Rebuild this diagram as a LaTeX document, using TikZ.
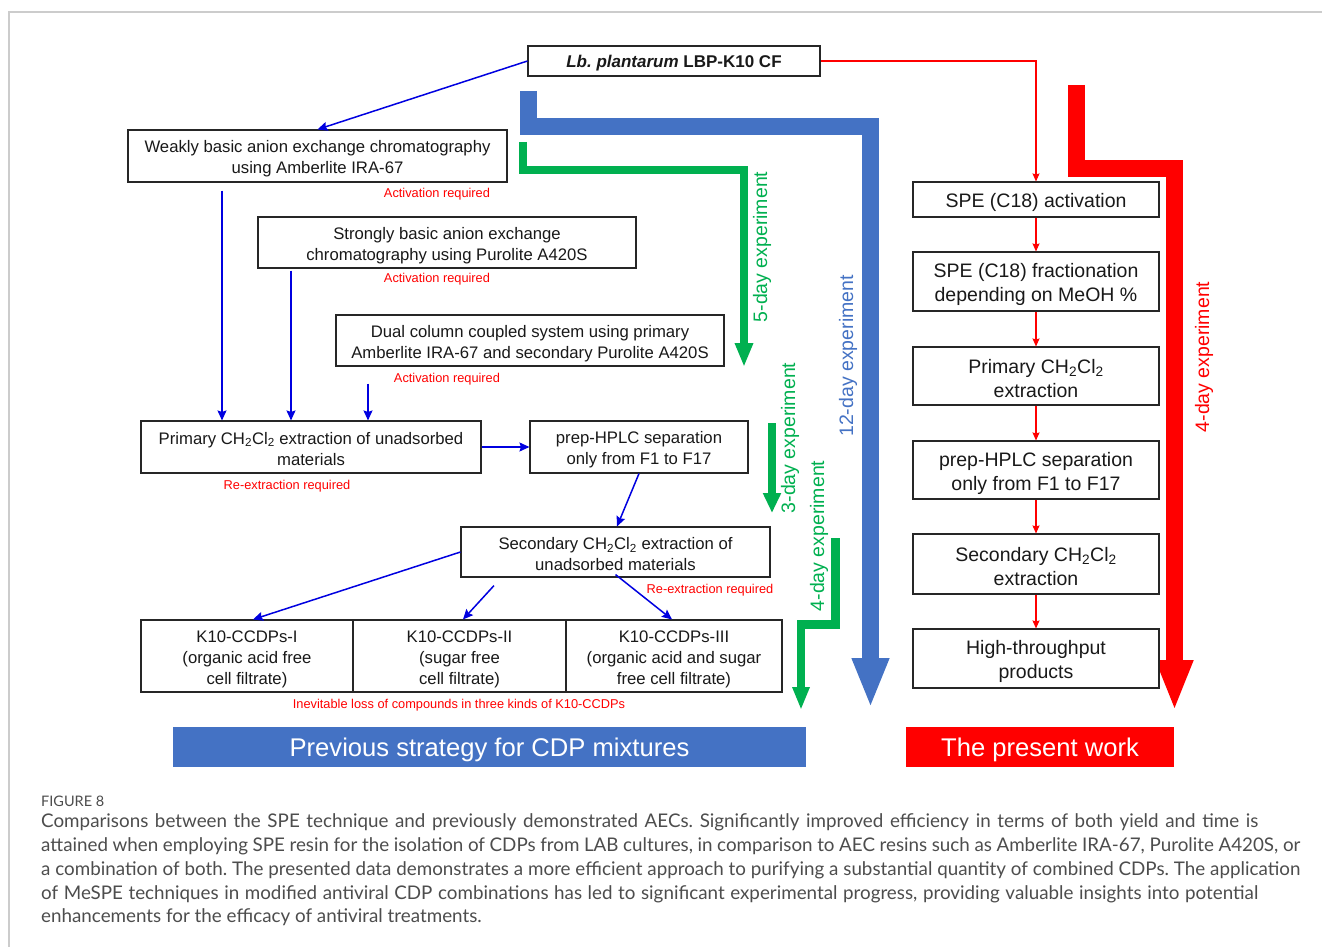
\documentclass[tikz,border=0pt]{standalone}
\usepackage{fontspec}
\setmainfont{Liberation Sans}
\newfontfamily\capfont{Lato}
\usetikzlibrary{arrows.meta}
\definecolor{tblue}{HTML}{4472C4}
\definecolor{tgreen}{HTML}{00B050}
\definecolor{lblue}{HTML}{0000E0}
\definecolor{tred}{HTML}{FF0000}
\definecolor{capgray}{HTML}{4D4D4D}
\definecolor{framegray}{HTML}{CCCCCC}
\newcommand\tp[1][6pt]{\rule{0pt}{\dimexpr0.73em+#1\relax}}
\frenchspacing
\begin{document}
\begin{tikzpicture}[x=1pt,y=-1pt,
  box/.style={draw=black!85, line width=1.1pt, fill=white, inner sep=0pt, align=center, font=\fontsize{16.7}{21}\selectfont, text=black!90},
  rbox/.style={box, minimum width=246pt, font=\fontsize{19.5}{24}\selectfont},
  note/.style={text=tred, inner sep=0pt, font=\fontsize{12.8}{15}\selectfont},
  barrow/.style={draw=lblue, line width=1.5pt, -{Stealth[length=10pt,width=9pt,inset=1.5pt]}},
  rarrow/.style={draw=tred, line width=1.1pt, -{Stealth[length=8pt,width=7pt,inset=1pt]}},
  rlabel/.style={rotate=90, inner sep=0pt, font=\fontsize{19.5}{23}\selectfont},
  banner/.style={inner sep=0pt, text=white, font=\fontsize{25.6}{30}\selectfont, minimum height=40pt},
  fatarrow/.style={line width=17pt, line join=miter, -{Triangle[width=34pt,length=50pt]}},
  slimarrow/.style={draw=tgreen, line width=8.5pt, line join=miter},
  capline/.style={anchor=west, inner sep=0pt, text=capgray, font=\capfont\fontsize{18.8}{22}\selectfont},
]
\useasboundingbox (0,0) rectangle (1322,947);
\fill[white] (0,0) rectangle (1322,947);
\draw[framegray, line width=1.5pt] (9,947) -- (9,12) -- (1322,12);

% ---- thick experiment arrows ----
\coordinate (b0) at (528.5,91);
\coordinate (b1) at (528.5,126.5);
\coordinate (b2) at (870.5,126.5);
\coordinate (b3) at (870.5,708);
\draw[fatarrow, draw=tblue] (b0) -- (b1) -- (b2) -- (b3);

\coordinate (r0) at (1076.5,85);
\coordinate (r1) at (1076.5,168.5);
\coordinate (r2) at (1174.5,168.5);
\coordinate (r3) at (1174.5,711);
\draw[fatarrow, draw=tred, -{Triangle[width=34pt,length=51pt]}] (r0) -- (r1) -- (r2) -- (r3);

\coordinate (g0) at (523,142);
\coordinate (g1) at (523,170);
\coordinate (g2) at (744,170);
\coordinate (g3) at (744,367);
\draw[slimarrow, -{Triangle[width=17pt,length=24pt]}] (g0) -- (g1) -- (g2) -- (g3);

\coordinate (h0) at (772,423);
\coordinate (h1) at (772,513);
\draw[slimarrow, -{Triangle[width=17pt,length=20pt]}] (h0) -- (h1);

\coordinate (f0) at (835.5,538);
\coordinate (f1) at (835.5,624.5);
\coordinate (f2) at (801,624.5);
\coordinate (f3) at (801,710);
\draw[slimarrow, -{Triangle[width=16pt,length=23pt]}] (f0) -- (f1) -- (f2) -- (f3);

\node[rlabel, text=tgreen] (l5) at (762,247) {5-day experiment};
\node[rlabel, text=tgreen] (l3) at (790,438) {3-day experiment};
\node[rlabel, text=tgreen] (l4) at (819,536) {4-day experiment};
\node[rlabel, text=tblue] (l12) at (848,356) {12-day experiment};
\node[rlabel, text=tred] (l4r) at (1204,357) {4-day experiment};

% ---- left (previous strategy) ----
\node[box, minimum width=292pt, minimum height=30pt, font=\bfseries\fontsize{17}{20}\selectfont] (top) at (674,61) {\tp[4pt]\textit{Lb. plantarum} LBP-K10 CF};
\node[box, minimum width=379pt, minimum height=52pt] (weak) at (317.5,156) {\tp Weakly basic anion exchange chromatography\\using Amberlite IRA-67};
\node[box, minimum width=378pt, minimum height=51pt] (strong) at (447,242.5) {\tp Strongly basic anion exchange\\chromatography using Purolite A420S};
\node[box, minimum width=388pt, minimum height=51pt] (dual) at (530,340.5) {\tp Dual column coupled system using primary\\Amberlite IRA-67 and secondary Purolite A420S};
\node[box, minimum width=340pt, minimum height=52pt] (prim) at (311,447) {\tp[3pt]Primary CH\textsubscript{2}Cl\textsubscript{2} extraction of unadsorbed\\materials};
\node[box, minimum width=218pt, minimum height=52pt] (hplc) at (639,447) {\tp prep-HPLC separation\\only from F1 to F17};
\node[box, minimum width=309pt, minimum height=50pt] (sec) at (615.5,552) {\tp[4pt]Secondary CH\textsubscript{2}Cl\textsubscript{2} extraction of\\unadsorbed materials};
\node[box, minimum width=212pt, minimum height=72pt] (k1) at (247,656) {\tp K10-CCDPs-I\\(organic acid free\\cell filtrate)};
\node[box, minimum width=213pt, minimum height=72pt] (k2) at (459.5,656) {\tp K10-CCDPs-II\\(sugar free\\cell filtrate)};
\node[box, minimum width=216pt, minimum height=72pt] (k3) at (674,656) {\tp K10-CCDPs-III\\(organic acid and sugar\\free cell filtrate)};

\node[note] (a1) at (437,194) {Activation required};
\node[note] (a2) at (437,279) {Activation required};
\node[note] (a3) at (447,379) {Activation required};
\node[note] (re1) at (287,486) {Re-extraction required};
\node[note] (re2) at (710,590) {Re-extraction required};
\node[note] (loss) at (459,705) {Inevitable loss of compounds in three kinds of K10-CCDPs};

\draw[barrow] (top.west) -- (weak.north);
\draw[barrow] ([shift={(-95.5,8)}]weak.south) -- ([xshift=-89]prim.north);
\draw[barrow] ([shift={(-156,2)}]strong.south) -- ([xshift=-20]prim.north);
\draw[barrow] ([shift={(-162,17)}]dual.south) -- ([xshift=57]prim.north);
\draw[barrow] (prim.east) -- (hplc.west);
\draw[barrow] (hplc.south) -- ([xshift=1.5]sec.north);
\draw[barrow] (sec.west) -- ([xshift=6]k1.north);
\draw[barrow] ([shift={(-121.5,8)}]sec.south) -- ([xshift=3.5]k2.north);
\draw[barrow] ([yshift=3]sec.south) -- ([xshift=-2]k3.north);

\node[banner, fill=tblue, minimum width=633pt] (pb) at (489.5,747) {\tp Previous strategy for CDP mixtures};

% ---- right (present work) ----
\node[rbox, minimum height=35pt] (s1) at (1036,199.5) {\tp SPE (C18) activation};
\node[rbox, minimum height=59pt] (s2) at (1036,281.5) {\tp SPE (C18) fractionation\\depending on MeOH \%};
\node[rbox, minimum height=58pt] (s3) at (1036,376) {\tp[4pt]Primary CH\textsubscript{2}Cl\textsubscript{2}\\extraction};
\node[rbox, minimum height=58pt] (s4) at (1036,470) {\tp prep-HPLC separation\\only from F1 to F17};
\node[rbox, minimum height=60pt] (s5) at (1036,564) {\tp[4pt]Secondary CH\textsubscript{2}Cl\textsubscript{2}\\extraction};
\node[rbox, minimum height=59pt] (s6) at (1036,658.5) {\tp High-throughput\\products};

\draw[rarrow] (top.east) -| (s1.north);
\draw[rarrow] (s1.south) -- (s2.north);
\draw[rarrow] (s2.south) -- (s3.north);
\draw[rarrow] (s3.south) -- (s4.north);
\draw[rarrow] (s4.south) -- (s5.north);
\draw[rarrow] (s5.south) -- (s6.north);

\node[banner, fill=tred, minimum width=268pt] (rb) at (1040,747) {\tp The present work};

% ---- caption ----
\node[anchor=west, inner sep=0pt, text=capgray, font=\capfont\fontsize{14.5}{16}\selectfont] (fig) at (41,801) {FIGURE 8};
\node[capline] (c1) at (41,822) {\makebox[1217pt][s]{Comparisons between the SPE technique and previously demonstrated AECs. Significantly improved efficiency in terms of both yield and time is}};
\node[capline] (c2) at (41,846) {\makebox[1259pt][s]{attained when employing SPE resin for the isolation of CDPs from LAB cultures, in comparison to AEC resins such as Amberlite IRA-67, Purolite A420S, or}};
\node[capline] (c3) at (41,870) {\makebox[1259pt][s]{a combination of both. The presented data demonstrates a more efficient approach to purifying a substantial quantity of combined CDPs. The application}};
\node[capline] (c4) at (41,894) {\makebox[1217pt][s]{of MeSPE techniques in modified antiviral CDP combinations has led to significant experimental progress, providing valuable insights into potential}};
\node[capline] (c5) at (41,917) {enhancements for the efficacy of antiviral treatments.};
\end{tikzpicture}
\end{document}
